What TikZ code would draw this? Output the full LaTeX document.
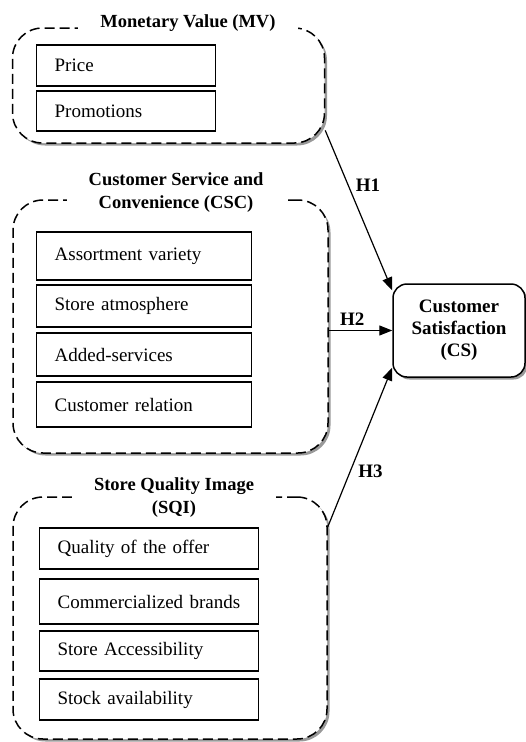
\documentclass[tikz,border=0pt]{standalone}
\usepackage{fontspec}
\setmainfont{Liberation Serif}
\usetikzlibrary{arrows.meta,shadows}
\newcommand\itemfont{\fontsize{19}{23}\selectfont\spaceskip=0.14em plus 0.05em\relax}

\begin{document}
\begin{tikzpicture}[x=1pt, y=-1pt, >={Triangle[length=13pt,width=10pt]}]
                  \tikzstyle{every node}=[font=\fontsize{19}{23}\selectfont]
                  \tikzstyle{group}=[draw, line width=1.5pt, dash pattern=on 10pt off 5pt, rounded corners=30pt, fill=white,
                                     drop shadow={shadow xshift=2.5pt, shadow yshift=-2.5pt, fill=black!40, opacity=1}]
                  \tikzstyle{grouptitle}=[fill=white, inner xsep=22pt, inner ysep=1pt, align=center, font=\fontsize{18.5}{23}\selectfont\bfseries]
                  \tikzstyle{item}=[draw, line width=1.3pt, anchor=west, inner xsep=18pt, inner ysep=0pt, font=\itemfont]
                  \tikzstyle{hyp}=[->, line width=1.2pt]
                  \tikzstyle{hlabel}=[font=\fontsize{19}{23}\selectfont\bfseries]

                  \useasboundingbox (0,0) rectangle (526,742);

                  % monetary value
                  \node[group, minimum width=312pt, minimum height=115pt] (mv) at (168.5,85.5) {};
                  \node[grouptitle] (mvtitle) at (188,23) {Monetary Value (MV)};
                  \node[item, text width=143pt, minimum height=41pt] (price) at (36,65.5) {Price};
                  \node[item, text width=143pt, minimum height=40pt] (promo) at (36,111) {Promotions};

                  % customer service and convenience
                  \node[group, minimum width=315pt, minimum height=253pt] (csc) at (170.5,326.5) {};
                  \node[grouptitle] (csctitle) at (176,192.5) {Customer Service and\\Convenience (CSC)};
                  \node[item, text width=179pt, minimum height=48pt] (assort) at (36,256) {Assortment variety};
                  \node[item, text width=179pt, minimum height=42pt] (atmos) at (36,306) {Store atmosphere};
                  \node[item, text width=179pt, minimum height=43pt] (added) at (36,354.5) {Added-services};
                  \node[item, text width=179pt, minimum height=45pt] (relation) at (36,404.5) {Customer relation};

                  % store quality image
                  \node[group, minimum width=314pt, minimum height=242pt] (sqi) at (170,618) {};
                  \node[grouptitle] (sqititle) at (174,497.5) {Store Quality Image\\(SQI)};
                  \node[item, text width=183pt, minimum height=41pt] (offer) at (39,548.5) {Quality of the offer};
                  \node[item, text width=183pt, minimum height=45pt] (brands) at (39,601.5) {Commercialized brands};
                  \node[item, text width=183pt, minimum height=40pt] (access) at (39,651) {Store Accessibility};
                  \node[item, text width=183pt, minimum height=41pt] (stock) at (39,699.5) {Stock availability};

                  % customer satisfaction
                  \node[draw, line width=1.5pt, rounded corners=14pt, fill=white, minimum width=132pt, minimum height=93pt,
                        align=center, font=\fontsize{19}{22}\selectfont\bfseries,
                        drop shadow={shadow xshift=2.5pt, shadow yshift=-2.5pt, fill=black!40, opacity=1}]
                        (cs) at (459,330.5) {Customer\\Satisfaction\\(CS)};

                  \draw[hyp] (mv.-16) -- node[hlabel, pos=0.34, right=4pt]{H1} (cs.149);
                  \draw[hyp] (cs.west -| csc.east) -- node[hlabel, pos=0.37, above=1pt]{H2} (cs.west);
                  \draw[hyp] (sqi.30) -- node[hlabel, pos=0.35, right=4pt]{H3} (cs.209);
                \end{tikzpicture}
\end{document}
